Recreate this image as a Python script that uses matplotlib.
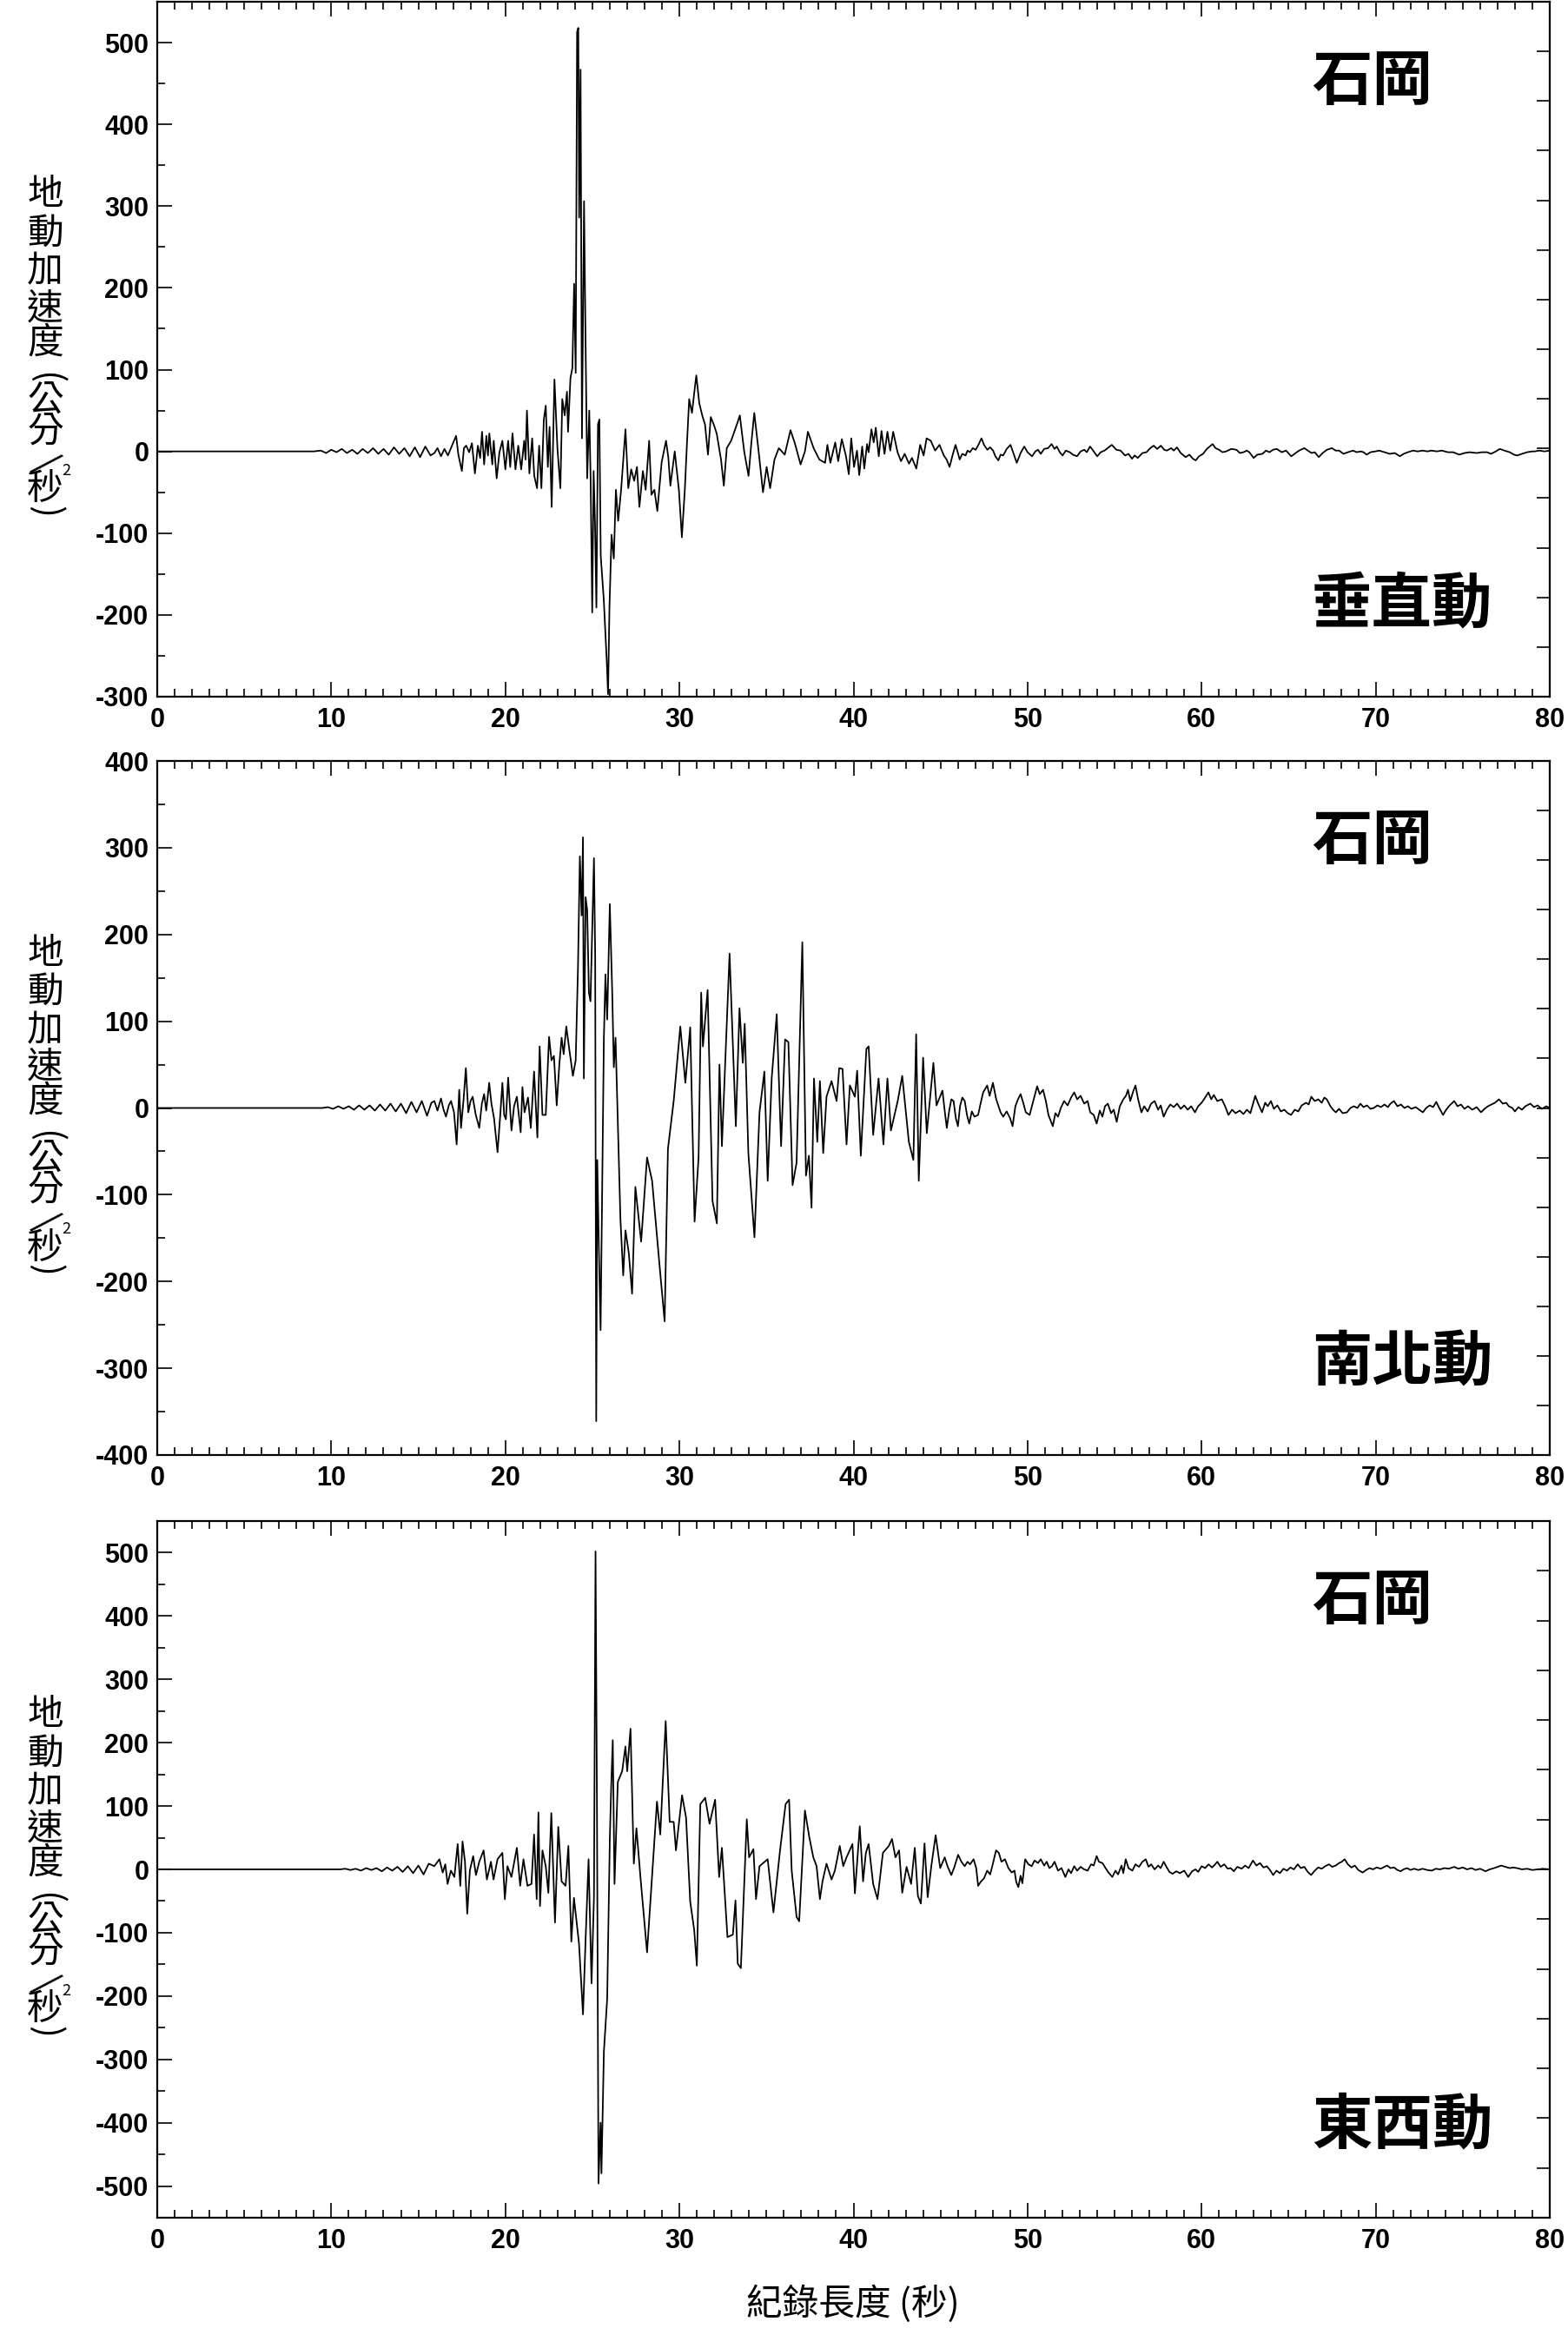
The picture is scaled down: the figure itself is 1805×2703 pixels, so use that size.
import numpy as np
import matplotlib
matplotlib.use("Agg")
import matplotlib.pyplot as plt
from matplotlib.ticker import MultipleLocator

plt.rcParams["axes.unicode_minus"] = False

# ---------------- data (time [s], acceleration [gal]) ----------------
vert_pts = [(0,0),(9.0,0),(9.4,1),(9.7,-2),(10.0,2),(10.3,-1),(10.6,3),(10.9,-2),(11.2,2),(11.5,-3),(11.8,3),(12.1,-2),(12.4,4),(12.7,-3),(13.0,3),(13.3,-4),(13.6,5),(13.9,-3),(14.2,4),(14.5,-6),(14.8,5),(15.1,-7),(15.4,6),(15.7,-5),(15.92,-2),(16.1,4),(16.3,-6),(16.5,3),(16.7,-5),(16.95,8),(17.17,19),(17.3,-4),(17.5,-24),(17.62,4),(17.75,7),(17.92,-1),(18.08,10),(18.25,-27),(18.42,7),(18.55,-8),(18.66,24),(18.78,-16),(18.91,19),(19.0,-5),(19.08,22),(19.25,-16),(19.33,13),(19.5,-33),(19.66,-1),(19.83,13),(20.0,-22),(20.16,13),(20.28,-19),(20.41,22),(20.58,-22),(20.74,7),(20.91,-22),(21.08,13),(21.16,-10),(21.24,50),(21.38,-27),(21.54,16),(21.66,-30),(21.82,-45),(21.94,7),(22.07,-45),(22.21,39),(22.32,56),(22.44,-19),(22.54,30),(22.66,-68),(22.82,88),(22.99,4),(23.16,-45),(23.27,64),(23.41,44),(23.54,73),(23.6,24),(23.74,90),(23.85,102),(23.95,205),(24.04,96),(24.12,513),(24.19,518),(24.24,286),(24.32,467),(24.4,16),(24.52,306),(24.6,148),(24.7,-33),(24.82,50),(24.9,-36),(24.99,-197),(25.07,-24),(25.15,-88),(25.23,-191),(25.32,33),(25.4,39),(25.48,-128),(25.65,-180),(25.82,-254),(25.9,-297),(25.98,-191),(26.1,-102),(26.23,-131),(26.35,-47),(26.48,-85),(26.65,-47),(26.9,27),(27.06,-45),(27.23,-22),(27.4,-36),(27.56,-19),(27.7,-68),(27.9,-24),(28.06,-47),(28.26,13),(28.39,-53),(28.56,-47),(28.73,-73),(28.98,-13),(29.23,13),(29.36,-7),(29.48,-42),(29.73,0),(29.97,-47),(30.14,-105),(30.31,-47),(30.42,4),(30.56,64),(30.72,47),(30.89,79),(30.97,93),(31.14,59),(31.31,44),(31.47,33),(31.64,-4),(31.8,42),(31.97,33),(32.14,22),(32.39,-10),(32.55,-42),(32.72,4),(32.97,13),(33.3,33),(33.47,44),(33.72,0),(33.97,-30),(34.13,10),(34.3,47),(34.55,0),(34.8,-50),(35.01,-19),(35.21,-45),(35.46,-10),(35.71,4),(36.05,-4),(36.38,26),(36.63,10),(36.96,-16),(37.21,0),(37.38,24),(37.71,4),(38.04,-10),(38.37,-14),(38.5,8),(38.67,-14),(38.95,11),(39.12,-12),(39.33,15),(39.57,-6),(39.73,-28),(39.87,16),(40.03,-19),(40.2,1),(40.33,-29),(40.5,6),(40.62,-21),(40.78,9),(40.87,-1),(41.03,27),(41.16,11),(41.28,29),(41.45,-6),(41.61,25),(41.78,-3),(41.95,24),(42.11,1),(42.28,24),(42.53,-1),(42.73,-12),(42.94,-3),(43.19,-15),(43.36,-8),(43.61,-21),(43.83,8),(44.03,-5),(44.2,16),(44.44,13),(44.69,1),(44.94,8),
(45.19,-5),(45.35,-10),(45.52,-19),(45.7,-4),(45.86,8),(46.0,-2),(46.1,-10),(46.25,-3),(46.44,-5),(46.55,1),(46.69,-1),(46.85,4),(47.02,2),(47.2,9),(47.35,16),(47.5,8),(47.69,2),(47.85,5),(48.02,1),(48.15,-6),(48.32,-11),(48.45,-4),(48.6,-5),(48.8,3),(49.02,8),(49.2,-3),(49.38,-14),(49.6,-2),(49.81,6),(50.0,-1),(50.26,-6),(50.45,0),(50.6,2),(50.76,-3),(50.95,3),(51.18,4),(51.38,9),(51.55,3),(51.68,6),(51.85,-1),(52.01,-5),(52.2,1),(52.43,-1),(52.6,-4),(52.84,-6),(53.05,0),(53.26,2),(53.4,-1),(53.59,6),(53.8,0),(54.0,-6),(54.2,-1),(54.42,1),(54.6,4),(54.84,8),(55.1,2),(55.34,1),(55.6,-5),(55.8,-3),(56.0,-9),(56.15,-5),(56.33,-8),(56.6,-2),(56.83,-1),(57.05,4),(57.25,7),(57.45,3),(57.66,7),(57.85,2),(58.0,1),(58.25,4),(58.4,1),(58.58,5),(58.8,-2),(59.08,-7),(59.3,-4),(59.5,-9),(59.66,-11),(59.85,-6),(60.08,-3),(60.3,3),(60.63,9),(60.8,4),(61.0,2),(61.2,-1),(61.41,0),(61.7,3),(62.0,2),(62.2,-2),(62.4,-1),(62.6,1),(62.74,-1),(62.99,-8),(63.2,-4),(63.49,-3),(63.7,1),(63.9,-1),(64.1,2),(64.32,3),(64.6,-1),(64.85,1),(65.15,-6),(65.4,-2),(65.6,1),(65.9,4),(66.1,1),(66.32,-2),(66.5,-1),(66.73,-7),(66.95,-2),(67.2,2),(67.48,4),(67.7,1),(67.9,1),(68.15,-3),(68.4,-1),(68.7,1),(68.9,-1),(69.15,0),(69.3,-1),(69.48,-4),(69.7,-1),(69.98,0),(70.2,1),(70.5,-1),(70.81,-3),(71.1,-2),(71.39,-6),(71.6,-3),(71.85,-1),(72.14,1),(72.4,0),(72.7,1),(72.97,0),(73.2,1),(73.5,0),(73.8,1),(74.14,-1),(74.45,-1),(74.8,-4),(75.1,-2),(75.4,-1),(75.8,-2),(76.1,-1),(76.4,-1),(76.63,-3),(76.9,0),(77.13,3),(77.4,1),(77.7,-1),(77.95,-4),(78.13,-5),(78.4,-3),(78.7,-1),(79.0,0),(79.13,0),(79.4,1),(79.7,0),(80.0,1)]

ns_pts = [(0,0),(9.5,0),(9.8,1),(10.1,-1),(10.4,2),(10.7,-1),(11.0,2),(11.3,-2),(11.6,3),(11.9,-2),(12.2,3),(12.5,-3),(12.8,4),(13.1,-3),(13.4,5),(13.7,-4),(14.0,5),(14.3,-6),(14.6,7),(14.9,-5),(15.2,8),(15.5,-9),(15.75,6),(15.92,8),(16.1,-3),(16.3,11),(16.45,-2),(16.59,-10),(16.75,3),(16.88,8),(17.05,-5),(17.2,-42),(17.35,21),(17.45,-23),(17.6,10),(17.73,46),(17.87,-5),(18.0,8),(18.12,13),(18.3,-8),(18.5,-23),(18.65,5),(18.78,16),(18.9,-3),(19.07,29),(19.2,5),(19.35,-12),(19.55,-51),(19.7,-10),(19.83,29),(19.93,-8),(20.03,-13),(20.16,35),(20.35,-26),(20.5,2),(20.66,13),(20.88,-28),(20.98,24),(21.1,-5),(21.3,12),(21.46,-23),(21.65,42),(21.84,-34),(21.97,71),(22.13,-8),(22.32,-8),(22.51,82),(22.65,55),(22.79,60),(22.95,3),(23.1,50),(23.23,81),(23.35,62),(23.5,94),(23.65,71),(23.88,37),(24.04,55),(24.17,160),(24.28,290),(24.38,222),(24.46,312),(24.51,34),(24.61,243),(24.7,228),(24.8,133),(24.89,123),(25.09,288),(25.16,175),(25.22,-361),(25.28,-60),(25.37,-160),(25.47,-256),(25.66,81),(25.75,154),(25.85,102),(26.0,235),(26.14,133),(26.23,47),(26.33,81),(26.61,-128),(26.77,-193),(26.9,-141),(27.09,-167),(27.28,-214),(27.47,-91),(27.8,-154),(28.14,-57),(28.43,-84),(28.9,-191),(29.15,-246),(29.34,-47),(29.67,8),(30.05,94),(30.34,29),(30.62,93),(30.87,-131),(31.1,-57),(31.25,133),(31.35,71),(31.62,136),(31.9,-107),(32.15,-133),(32.3,50),(32.44,-44),(32.88,178),(33.24,-21),(33.45,115),(33.64,52),(33.75,97),(33.96,-52),(34.31,-149),(34.6,-5),(34.88,42),(35.07,-84),(35.3,34),(35.59,108),(35.84,-44),(36.07,79),(36.26,76),(36.5,-89),(36.73,-63),(37.06,191),(37.27,-78),(37.44,-55),(37.59,-115),(37.73,34),(37.92,-39),(38.07,31),(38.26,-52),(38.45,13),(38.74,31),(39.03,8),(39.18,46),(39.37,45),(39.6,-42),(39.79,26),(40.08,13),(40.21,43),(40.42,-55),(40.74,68),(40.87,71),(41.13,-31),(41.44,34),(41.72,-42),(41.95,34),(42.15,-26),(42.54,8),(42.8,37),(43.18,-39),(43.44,-60),(43.6,85),(43.75,-84),(44.0,58),(44.21,-29),(44.59,52),(44.77,3),
(45.11,20),(45.25,-5),(45.36,-23),(45.5,-3),(45.62,10),(45.75,8),(45.88,-12),(46.0,-21),(46.12,2),(46.25,12),(46.39,8),(46.52,-8),(46.65,-18),(46.8,-4),(46.95,-10),(47.16,-8),(47.3,5),(47.45,18),(47.68,26),(47.82,14),(48.01,29),(48.2,10),(48.45,-5),(48.6,-10),(48.8,-4),(49.0,-12),(49.14,-21),(49.3,2),(49.45,10),(49.6,16),(49.75,6),(49.9,-5),(50.12,-8),(50.3,6),(50.55,25),(50.7,16),(50.89,21),(51.05,8),(51.2,-8),(51.45,-21),(51.6,-6),(51.75,-10),(51.91,0),(52.1,8),(52.3,3),(52.5,12),(52.68,18),(52.85,10),(53.05,14),(53.25,5),(53.45,8),(53.6,-5),(53.8,-8),(53.97,-18),(54.15,-3),(54.3,-10),(54.45,2),(54.61,5),(54.8,-6),(54.95,-2),(55.12,-16),(55.3,2),(55.5,10),(55.65,14),(55.77,21),(55.9,8),(56.05,18),(56.2,26),(56.35,10),(56.54,-5),(56.7,2),(56.9,-4),(57.1,5),(57.3,8),(57.5,-2),(57.65,3),(57.82,-10),(58.0,-2),(58.2,4),(58.4,1),(58.59,5),(58.8,-1),(59.0,3),(59.2,-2),(59.4,2),(59.62,-5),(59.8,2),(60.0,6),(60.2,12),(60.39,18),(60.55,10),(60.7,15),(60.9,8),(61.16,10),(61.35,2),(61.54,-8),(61.75,-2),(61.95,-6),(62.19,-3),(62.4,-7),(62.6,-2),(62.8,-6),(63.08,14),(63.25,5),(63.47,-5),(63.65,6),(63.8,2),(63.98,8),(64.15,-1),(64.35,3),(64.55,-4),(64.75,-2),(64.95,-6),(65.14,-8),(65.35,-2),(65.55,-4),(65.75,3),(66.0,6),(66.15,4),(66.3,13),(66.5,8),(66.7,10),(66.9,6),(67.05,12),(67.19,10),(67.4,2),(67.55,-2),(67.71,-5),(67.9,-1),(68.1,-6),(68.35,-5),(68.55,0),(68.75,2),(68.95,0),(69.12,5),(69.3,1),(69.5,3),(69.7,-1),(69.89,0),(70.1,3),(70.3,1),(70.5,4),(70.7,1),(70.85,5),(71.05,8),(71.25,2),(71.45,4),(71.65,0),(71.85,2),(72.05,-1),(72.3,1),(72.5,-2),(72.71,-5),(72.9,0),(73.1,3),(73.3,1),(73.48,7),(73.65,0),(73.87,-8),(74.05,-2),(74.25,3),(74.51,8),(74.7,2),(74.9,4),(75.1,-1),(75.3,2),(75.55,-2),(75.8,1),(76.05,-5),(76.25,-1),(76.45,2),(76.65,4),(76.85,6),(77.08,10),(77.3,5),(77.5,6),(77.65,2),(77.85,0),(78.0,-4),(78.2,1),(78.4,-2),(78.6,2),(78.88,5),(79.1,1),(79.3,3),(79.55,-1),(79.8,2),(80.0,0)]

ew_pts = [(0,0),(10.5,0),(10.8,1),(11.1,-1),(11.4,1),(11.7,-2),(12.0,2),(12.3,-1),(12.6,2),(12.9,-3),(13.2,3),(13.5,-2),(13.8,4),(14.1,-4),(14.4,5),(14.7,-6),(15.0,6),(15.3,-8),(15.6,9),(15.92,5),(16.21,16),(16.4,-5),(16.55,8),(16.68,-23),(16.87,-2),(17.07,-12),(17.26,40),(17.41,-26),(17.54,44),(17.68,12),(17.81,-70),(17.96,-2),(18.15,21),(18.31,-9),(18.5,12),(18.75,30),(18.94,-16),(19.17,12),(19.32,-16),(19.55,16),(19.83,26),(19.97,-47),(20.12,5),(20.35,-12),(20.66,34),(20.85,-26),(21.04,16),(21.27,-26),(21.5,-23),(21.65,55),(21.8,-47),(21.9,90),(21.99,-58),(22.13,30),(22.32,5),(22.47,-37),(22.64,89),(22.85,-84),(23.04,67),(23.23,-19),(23.46,-26),(23.62,37),(23.79,-114),(23.94,-45),(24.23,-117),(24.46,-229),(24.61,-110),(24.78,16),(24.95,-180),(25.09,-44),(25.18,502),(25.26,117),(25.35,-496),(25.47,-400),(25.52,-480),(25.66,-288),(25.85,-204),(26.0,47),(26.08,131),(26.17,204),(26.27,-23),(26.46,138),(26.71,155),(26.9,194),(27.0,155),(27.19,222),(27.38,9),(27.53,65),(27.76,-12),(28.14,-131),(28.43,-9),(28.71,107),(28.9,55),(29.21,234),(29.44,75),(29.67,75),(29.8,30),(30.15,117),(30.38,82),(30.62,-51),(30.85,-96),(31.0,-152),(31.2,103),(31.48,113),(31.73,72),(32.05,110),(32.28,-12),(32.44,34),(32.76,-107),(33.07,-103),(33.22,-49),(33.35,-149),(33.53,-156),(33.87,79),(34.0,19),(34.25,32),(34.4,-47),(34.6,5),(35.07,16),(35.4,-68),(35.78,30),(36.1,103),(36.3,110),(36.45,-2),(36.73,-75),(36.88,-82),(37.21,93),(37.46,51),(37.69,19),(37.88,5),(38.07,-47),(38.22,-19),(38.45,9),(38.74,-16),(38.93,-2),(39.21,37),(39.41,5),(39.6,19),(39.94,40),(40.08,-38),(40.36,68),(40.55,-19),(40.71,26),(40.87,40),(41.13,-23),(41.38,-47),(41.69,26),(42.03,37),(42.21,48),(42.41,19),(42.62,30),(42.8,-37),(43.05,4),(43.31,-23),(43.52,34),(43.7,-42),(43.87,-54),(44.08,41),(44.26,-44),(44.47,5),(44.72,54),(44.98,2),
(45.24,19),(45.4,5),(45.62,-9),(45.8,4),(46.01,23),(46.2,12),(46.39,5),(46.55,12),(46.7,8),(46.9,16),(47.05,2),(47.16,-26),(47.3,-20),(47.5,-14),(47.68,-2),(47.85,-8),(48.0,8),(48.19,30),(48.35,26),(48.5,12),(48.7,16),(48.9,2),(49.09,-5),(49.25,-2),(49.35,-20),(49.47,-28),(49.6,-10),(49.7,-22),(49.86,16),(50.05,8),(50.24,5),(50.4,14),(50.6,10),(50.76,16),(50.95,6),(51.1,12),(51.25,2),(51.4,5),(51.55,12),(51.75,-2),(51.95,2),(52.17,-12),(52.35,0),(52.5,-6),(52.68,5),(52.85,-2),(53.05,4),(53.25,0),(53.45,-2),(53.65,8),(53.8,6),(53.97,21),(54.1,12),(54.3,10),(54.48,2),(54.65,-5),(54.87,-12),(55.05,-2),(55.2,-8),(55.4,6),(55.5,-6),(55.64,16),(55.8,2),(56.02,-2),(56.2,8),(56.4,4),(56.6,12),(56.79,16),(56.95,4),(57.1,8),(57.3,0),(57.5,6),(57.65,2),(57.82,12),(58.0,3),(58.15,-4),(58.33,-7),(58.55,-3),(58.75,-6),(59.0,-2),(59.23,-12),(59.45,-3),(59.65,0),(59.8,-4),(60.0,5),(60.2,2),(60.4,8),(60.6,3),(60.75,7),(60.9,12),(61.1,4),(61.3,8),(61.5,1),(61.67,2),(61.85,-3),(62.05,4),(62.3,1),(62.5,6),(62.7,2),(62.95,14),(63.15,6),(63.35,10),(63.55,3),(63.75,5),(63.95,-2),(64.11,-9),(64.3,-2),(64.5,-6),(64.7,1),(64.9,-2),(65.1,3),(65.3,0),(65.52,8),(65.7,2),(65.9,4),(66.1,-4),(66.29,-9),(66.5,-2),(66.7,3),(66.9,1),(67.1,5),(67.32,8),(67.5,4),(67.7,6),(67.9,10),(68.05,12),(68.22,16),(68.4,8),(68.6,3),(68.8,6),(69.0,-1),(69.25,-5),(69.45,-1),(69.65,2),(69.85,0),(70.05,3),(70.3,1),(70.5,4),(70.66,6),(70.85,2),(71.05,3),(71.25,-1),(71.43,-3),(71.6,0),(71.8,2),(72.0,-1),(72.2,1),(72.45,-1),(72.7,1),(72.95,-1),(73.23,-2),(73.45,1),(73.7,0),(73.95,2),(74.2,1),(74.51,4),(74.75,1),(75.0,3),(75.25,0),(75.5,2),(75.75,-1),(76.0,1),(76.31,-3),(76.55,0),(76.8,2),(77.0,4),(77.21,6),(77.45,4),(77.7,2),(77.9,3),(78.11,2),(78.4,0),(78.7,1),(79.0,-1),(79.3,0),(79.6,1),(80.0,0)]

station = "石岡"
components = ["垂直動", "南北動", "東西動"]
ylims = [(-300, 550), (-400, 400), (-550, 550)]
yticks = [np.arange(-300, 501, 100), np.arange(-400, 401, 100), np.arange(-500, 501, 100)]
xlabel = "紀錄長度 (秒)"
ylabel_chars = ["地", "動", "加", "速", "度", "(", "公", "分", "/", "秒", ")"]
series = [vert_pts, ns_pts, ew_pts]

# ---------------- figure ----------------
W, H = 1805, 2703
fig = plt.figure(figsize=(W / 100, H / 100), dpi=100)
cjk = ["Noto Sans CJK TC", "DejaVu Sans"]
numfont = "Liberation Sans"

boxes = [(2, 802), (876, 1675), (1751, 2553)]
left_px, right_px = 181, 1784

for i, (pts, comp, yl, yt, (top, bot)) in enumerate(zip(series, components, ylims, yticks, boxes)):
    ax = fig.add_axes([left_px / W, 1 - bot / H, (right_px - left_px) / W, (bot - top) / H])
    t = [p[0] for p in pts]
    a = [p[1] for p in pts]
    ax.plot(t, a, color="black", lw=1.3)
    ax.set_xlim(0, 80)
    ax.set_ylim(*yl)
    ax.set_yticks(yt)
    ax.yaxis.set_minor_locator(MultipleLocator(50))
    ax.xaxis.set_major_locator(MultipleLocator(10))
    ax.xaxis.set_minor_locator(MultipleLocator(1))
    ax.tick_params(axis="x", which="both", direction="in", top=True, bottom=True, width=1.2)
    ax.tick_params(axis="y", which="both", direction="in", left=True, right=False, width=1.2)
    ax.tick_params(which="major", length=12.5)
    ax.tick_params(which="minor", length=6.5)
    ax.tick_params(axis="x", pad=9)
    ax.tick_params(axis="y", pad=7)
    for lab in ax.get_xticklabels() + ax.get_yticklabels():
        lab.set_fontfamily(numfont)
        lab.set_fontweight("bold")
        lab.set_fontsize(22)
    for s in ax.spines.values():
        s.set_linewidth(1.6)
    ax2 = ax.twinx()
    ax2.set_ylim(*yl)
    ax2.set_yticks(np.linspace(yl[0], yl[1], 15))
    ax2.tick_params(axis="y", direction="in", length=11, width=1.2, labelright=False)
    for s in ax2.spines.values():
        s.set_visible(False)

    ax.text(0.829, 0.884, station, transform=ax.transAxes, fontsize=50,
            family=cjk, fontweight="bold", ha="left", va="center")
    ax.text(0.829, 0.132, comp, transform=ax.transAxes, fontsize=50,
            family=cjk, fontweight="bold", ha="left", va="center")

    cy = (top + bot) / 2
    cx = 52
    offs = [-177, -133, -89, -46, -7, 33, 59, 95, 132, 162, 187]
    for ch, off in zip(ylabel_chars, offs):
        rot = 0
        if ch in "()":
            rot = -90
        if ch == "/":
            rot = -45
        fig.text(cx / W, 1 - (cy + off) / H, ch, family=cjk, fontsize=30,
                 rotation=rot, ha="center", va="center")
    fig.text((cx + 24) / W, 1 - (cy + 140) / H, "2", family=cjk, fontsize=13,
             ha="center", va="center")

fig.text(982 / W, 1 - 2652 / H, xlabel, family=cjk, fontsize=30, ha="center", va="center")

fig.savefig("out.png", dpi=100)
